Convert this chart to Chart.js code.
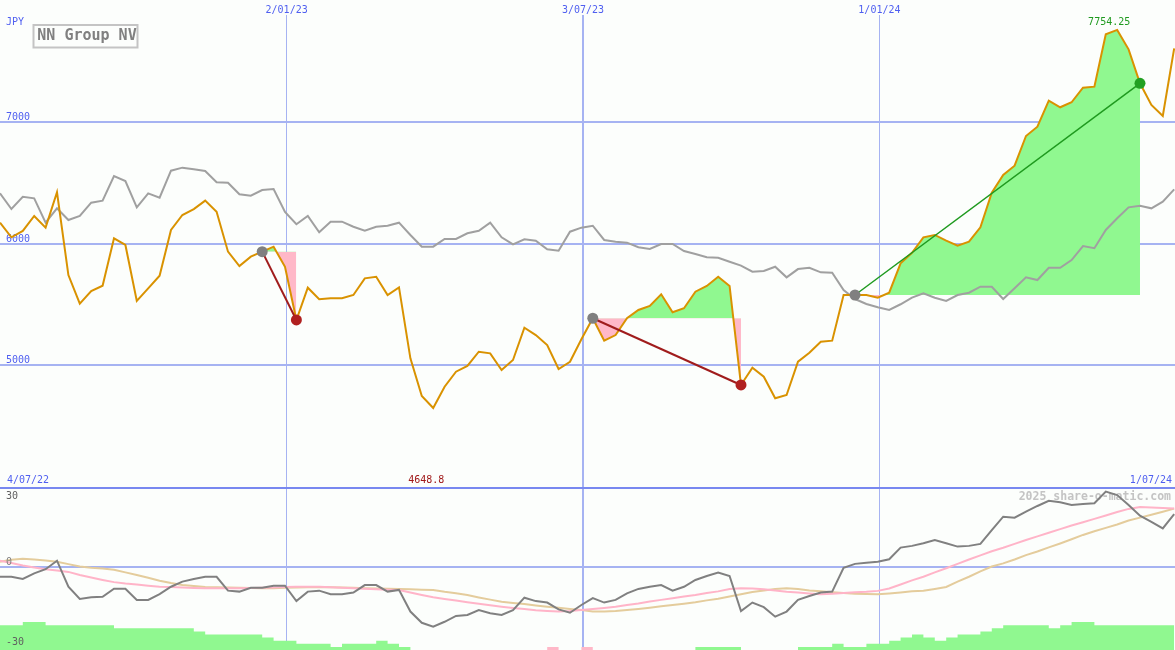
<!DOCTYPE html>
<html>
<head>
<meta charset="utf-8">
<script src="https://cdn.jsdelivr.net/npm/chart.js@4.4.1/dist/chart.umd.min.js"></script>
<style>
  html, body { margin: 0; padding: 0; background: #fcfefc; }
  #wrap { position: relative; width: 1175px; height: 650px; overflow: hidden; background: #fcfefc; }
  #top { position: absolute; left: 0; top: 0; }
  #bot { position: absolute; left: 0; top: 487px; }
</style>
</head>
<body>
<div id="wrap">
  <canvas id="top" width="1175" height="487"></canvas>
  <canvas id="bot" width="1175" height="163"></canvas>
</div>
<script>
// weekly closes, first sample 10/07/22 (day 6 counted from 4/07/22)
const firstDay = 6;
const weekDays = Array.from({ length: 104 }, (_, i) => firstDay + 7 * i);

const price = [6171, 6051, 6103, 6226, 6130, 6421, 5741, 5506, 5610, 5653,
  6043, 5988, 5528, 5632, 5736, 6111, 6234, 6283, 6352, 6261,
  5933, 5815, 5892, 5933, 5974, 5809, 5372, 5637, 5542, 5550,
  5550, 5577, 5714, 5727, 5577, 5640, 5057, 4747, 4648.8, 4824,
  4947, 4994, 5111, 5098, 4961, 5043, 5308, 5248, 5166, 4969,
  5029, 5213, 5386, 5202, 5248, 5386, 5454, 5487, 5583, 5435,
  5468, 5604, 5651, 5727, 5651, 4838, 4980, 4906, 4729, 4756,
  5029, 5103, 5193, 5202, 5577, 5577, 5577, 5555, 5596, 5837,
  5924, 6051, 6070, 6023, 5982, 6015, 6133, 6417, 6563, 6639,
  6883, 6959, 7173, 7119, 7160, 7280, 7288, 7718, 7754.25, 7595,
  7316, 7138, 7047, 7603];

// market index, rescaled to the price axis
const bench = [6412, 6283, 6384, 6371, 6171, 6289, 6193, 6226, 6335, 6352,
  6554, 6513, 6297, 6412, 6376, 6598, 6623, 6609, 6595, 6503,
  6499, 6404, 6393, 6439, 6448, 6259, 6158, 6226, 6092, 6179,
  6179, 6138, 6105, 6138, 6146, 6171, 6070, 5974, 5974, 6037,
  6037, 6084, 6105, 6171, 6051, 5993, 6034, 6023, 5952, 5941,
  6097, 6130, 6146, 6029, 6015, 6007, 5969, 5955, 5996, 5996,
  5938, 5914, 5887, 5883, 5850, 5818, 5768, 5774, 5809, 5722,
  5790, 5801, 5763, 5760, 5618, 5544, 5503, 5476, 5454, 5501,
  5555, 5591, 5555, 5528, 5577, 5596, 5645, 5645, 5544, 5632,
  5722, 5700, 5801, 5801, 5864, 5979, 5961, 6111, 6207, 6297,
  6310, 6289, 6343, 6445];

const osc = [-3.9, -3.9, -4.8, -2.5, -0.8, 2.7, -8.0, -13.0, -12.3, -12.1,
  -8.8, -8.8, -13.4, -13.4, -11.0, -8.0, -5.9, -4.8, -3.9, -3.9,
  -9.6, -10.0, -8.4, -8.4, -7.6, -7.6, -13.9, -10.0, -9.6, -11.1,
  -11.1, -10.4, -7.3, -7.3, -10.0, -9.3, -18.2, -22.8, -24.4, -22.4,
  -20.0, -19.6, -17.6, -18.9, -19.6, -17.6, -12.5, -13.9, -14.5, -17.3,
  -18.7, -15.5, -12.7, -14.5, -13.4, -10.7, -8.9, -8.0, -7.3, -9.6,
  -8.0, -5.2, -3.6, -2.2, -3.6, -18.0, -14.5, -16.4, -20.3, -18.2,
  -13.4, -11.8, -10.4, -10.0, -0.2, 1.4, 1.9, 2.3, 3.3, 8.1,
  8.8, 9.9, 11.2, 9.9, 8.5, 8.8, 9.6, 15.3, 20.8, 20.4,
  22.9, 25.2, 27.3, 26.7, 25.6, 26.0, 26.3, 31.1, 29.7, 25.6,
  21.2, 18.7, 16.0, 21.9];

const avgFast = [2.7, 1.8, 0.7, -0.1, -0.8, -1.3, -1.9, -3.2, -4.2, -5.2,
  -6.1, -6.7, -7.1, -7.6, -8.0, -8.1, -8.3, -8.5, -8.6, -8.6,
  -8.6, -8.6, -8.5, -8.4, -8.3, -8.1, -8.0, -8.0, -8.0, -8.2,
  -8.4, -8.6, -8.8, -9.0, -9.2, -9.3, -10.4, -11.4, -12.3, -13.0,
  -13.7, -14.4, -15.0, -15.6, -16.2, -16.7, -17.1, -17.7, -18.0, -18.2,
  -18.0, -17.6, -17.1, -16.7, -16.2, -15.5, -14.9, -14.1, -13.4, -12.7,
  -12.0, -11.4, -10.6, -9.9, -8.9, -8.6, -8.7, -9.0, -9.5, -10.1,
  -10.4, -10.8, -11.1, -10.9, -10.6, -10.3, -10.1, -9.7, -8.7, -7.1,
  -5.4, -3.9, -2.1, -0.4, 1.4, 3.2, 4.9, 6.6, 8.0, 9.6,
  11.2, 12.7, 14.2, 15.7, 17.2, 18.5, 19.9, 21.3, 22.7, 24.0,
  24.8, 24.6, 24.4, 24.2];

const avgSlow = [2.3, 3.1, 3.5, 3.2, 2.8, 2.3, 1.3, 0.3, -0.2, -0.5,
  -1.0, -2.1, -3.2, -4.3, -5.5, -6.5, -7.3, -7.7, -8.1, -8.2,
  -8.3, -8.4, -8.5, -8.6, -8.6, -8.4, -8.3, -8.2, -8.2, -8.2,
  -8.3, -8.4, -8.6, -8.7, -8.8, -8.9, -9.0, -9.2, -9.3, -10.1,
  -10.7, -11.4, -12.4, -13.3, -14.2, -14.7, -15.1, -15.7, -16.2, -16.6,
  -17.1, -17.6, -18.2, -18.2, -18.0, -17.6, -17.1, -16.6, -16.0, -15.5,
  -15.0, -14.4, -13.6, -12.9, -12.0, -11.1, -10.2, -9.5, -8.9, -8.6,
  -8.9, -9.5, -9.9, -10.3, -10.6, -10.9, -11.0, -11.1, -10.8, -10.4,
  -9.9, -9.6, -8.9, -8.1, -5.9, -3.9, -1.7, 0.3, 1.6, 3.2,
  5.0, 6.5, 8.2, 9.8, 11.5, 13.3, 14.8, 16.2, 17.6, 19.2,
  20.4, 21.6, 22.8, 24.1];

// strength blocks along the bottom (levels)
const strengthUp = [8, 8, 8, 9, 9, 8, 8, 8, 8, 8,
  8, 7, 7, 7, 7, 7, 7, 7, 6, 5,
  5, 5, 5, 5, 4, 3, 3, 2, 2, 2,
  1, 2, 2, 2, 3, 2, 1, 0, 0, 0,
  0, 0, 0, 0, 0, 0, 0, 0, 0, 0,
  0, 0, 0, 0, 0, 0, 0, 0, 0, 0,
  0, 0, 1, 1, 1, 1, 0, 0, 0, 0,
  0, 1, 1, 1, 2, 1, 1, 2, 2, 3,
  4, 5, 4, 3, 4, 5, 5, 6, 7, 8,
  8, 8, 8, 7, 8, 9, 9, 8, 8, 8,
  8, 8, 8, 8];
const strengthDown = weekDays.map((_, i) => (i === 49 || i === 52 ? 1 : 0));

// trades: week index of entry and exit
const tradeOpen = [23, 52, 75];
const tradeClose = [26, 65, 100];

const dateTicks = [182, 364, 546];           // days after 4/07/22
const dateLabels = ["2/01/23", "3/07/23", "1/01/24"];
const rangeLabels = ["4/07/22", "1/07/24"];
const priceTicks = [5000, 6000, 7000];
const oscTicks = [30, 0, -30];
const currency = "JPY";
const title = "NN Group NV";
const credit = "2025 share-o-matic.com";

const BG = "#fcfefc";
const BLUE = "#4f5ff0";
const GRID = "#a6b3f2";
const GREEN_FILL = "#90f890";
const PINK_FILL = "#ffb8c8";
const FONT = '10px "DejaVu Sans Mono"';

const pts = (arr) => arr.map((v, i) => ({ x: weekDays[i], y: v }));

const xScale = {
  type: "linear",
  min: firstDay,
  max: 727.5,
  afterBuildTicks: (s) => { s.ticks = dateTicks.map((v) => ({ value: v })); },
  ticks: { display: false },
  grid: {
    color: GRID,
    lineWidth: (c) => (c.tick && dateLabels[dateTicks.indexOf(c.tick.value)]?.includes("/07/") ? 2 : 1),
    drawTicks: false,
  },
  border: { display: false },
};

// ---------- upper panel ----------
const topDatasets = [];

tradeOpen.forEach((o, t) => {
  const c = tradeClose[t];
  const win = price[c] > price[o];
  const col = win ? "#1f9a1f" : "#a01c1c";
  topDatasets.push({
    data: [{ x: weekDays[o], y: price[o] }, { x: weekDays[c], y: price[c] }],
    showLine: false,
    pointRadius: 5.5,
    pointBorderWidth: 0,
    pointBackgroundColor: ["#808080", win ? "#22a022" : "#b02020"],
    order: 0,
  });
  topDatasets.push({
    data: [{ x: weekDays[o], y: price[o] }, { x: weekDays[c], y: price[c] }],
    borderColor: col,
    borderWidth: win ? 1.5 : 2,
    pointRadius: 0,
    order: 1,
  });
  topDatasets.push({
    data: pts(price).slice(o, c + 1),
    borderColor: "rgba(0,0,0,0)",
    borderWidth: 0,
    pointRadius: 0,
    fill: { target: { value: price[o] }, above: GREEN_FILL, below: PINK_FILL },
    order: 4,
  });
});

topDatasets.push({
  data: pts(price),
  borderColor: "#d99200",
  borderWidth: 2,
  pointRadius: 0,
  order: 2,
});
topDatasets.push({
  data: pts(bench),
  borderColor: "#a0a0a0",
  borderWidth: 2,
  pointRadius: 0,
  order: 3,
});

const topLabels = {
  id: "topLabels",
  beforeDatasetsDraw(chart) {
    const { ctx, scales: { x, y } } = chart;
    ctx.save();
    ctx.font = FONT;
    ctx.textBaseline = "alphabetic";

    // date labels over the vertical grid lines
    ctx.textAlign = "center";
    dateTicks.forEach((d, i) => {
      const px = x.getPixelForValue(d);
      const w = ctx.measureText(dateLabels[i]).width;
      ctx.fillStyle = BG;
      ctx.fillRect(px - w / 2 - 2, 0, w + 4, 15);
      ctx.fillStyle = BLUE;
      ctx.fillText(dateLabels[i], px, 13);
    });

    ctx.textAlign = "left";
    ctx.fillStyle = BLUE;
    ctx.fillText(currency, 6, 25);
    priceTicks.forEach((v) => ctx.fillText(String(v), 6, y.getPixelForValue(v) - 2));
    ctx.fillText(rangeLabels[0], 7, 483);
    ctx.textAlign = "right";
    ctx.fillText(rangeLabels[1], 1172, 483);

    // title box
    ctx.strokeStyle = "#c4c4c4";
    ctx.lineWidth = 2;
    ctx.strokeRect(33.5, 25, 104, 22.5);
    ctx.fillStyle = "#808080";
    ctx.font = 'bold 15px "DejaVu Sans Mono"';
    ctx.textAlign = "center";
    ctx.textBaseline = "middle";
    ctx.fillText(title, 87, 36.5);
    ctx.restore();
  },
  afterDatasetsDraw(chart) {
    const { ctx, scales: { x, y } } = chart;
    const lo = price.indexOf(Math.min(...price));
    const hi = price.indexOf(Math.max(...price));
    ctx.save();
    ctx.font = FONT;
    ctx.textAlign = "center";
    ctx.textBaseline = "alphabetic";
    ctx.fillStyle = "#a01818";
    ctx.fillText(String(price[lo]), x.getPixelForValue(weekDays[lo]) - 7, 483);
    ctx.fillStyle = "#1f9a1f";
    ctx.fillText(String(price[hi]), x.getPixelForValue(weekDays[hi]) - 8, y.getPixelForValue(price[hi]) - 5);
    ctx.restore();
  },
};

new Chart(document.getElementById("top"), {
  type: "line",
  data: { datasets: topDatasets },
  options: {
    responsive: false,
    animation: false,
    devicePixelRatio: 1,
    layout: { padding: 0, autoPadding: false },
    plugins: { legend: { display: false }, tooltip: { enabled: false } },
    elements: { line: { tension: 0 } },
    scales: {
      x: xScale,
      y: {
        min: 4000,
        max: 8000,
        afterBuildTicks: (s) => { s.ticks = priceTicks.map((v) => ({ value: v })); },
        ticks: { display: false },
        grid: { color: GRID, lineWidth: 2, drawTicks: false },
        border: { display: false },
      },
    },
  },
  plugins: [topLabels],
});

// ---------- lower panel ----------
const botLabels = {
  id: "botLabels",
  beforeDatasetsDraw(chart) {
    const { ctx } = chart;
    ctx.save();
    ctx.fillStyle = "#7888f0";
    ctx.fillRect(0, 0, chart.width, 2);
    ctx.font = 'bold 11.5px "DejaVu Sans Mono"';
    ctx.textAlign = "right";
    ctx.textBaseline = "alphabetic";
    ctx.fillStyle = "#c4c4c4";
    ctx.fillText(credit, 1171, 13);
    ctx.restore();
  },
  afterDatasetsDraw(chart) {
    const { ctx, scales: { y } } = chart;
    ctx.save();
    ctx.font = FONT;
    ctx.textAlign = "left";
    ctx.textBaseline = "alphabetic";
    oscTicks.forEach((v) => {
      ctx.fillStyle = v === 0 ? "#808080" : "#606060";
      ctx.fillText(String(v), 6, y.getPixelForValue(v) + (v === 0 ? -2 : 5));
    });
    ctx.restore();
  },
};

new Chart(document.getElementById("bot"), {
  type: "line",
  data: {
    datasets: [
      { data: pts(osc), borderColor: "#808080", borderWidth: 2, pointRadius: 0, order: 0 },
      { data: pts(avgFast), borderColor: "#ffb4c8", borderWidth: 2, pointRadius: 0, order: 1 },
      { data: pts(avgSlow), borderColor: "#e4cc9c", borderWidth: 2, pointRadius: 0, order: 2 },
      {
        data: pts(strengthUp), yAxisID: "yb", stepped: "after", fill: "start",
        backgroundColor: GREEN_FILL, borderColor: "rgba(0,0,0,0)", borderWidth: 0, pointRadius: 0, order: 5,
      },
      {
        data: pts(strengthDown), yAxisID: "yb", stepped: "after", fill: "start",
        backgroundColor: PINK_FILL, borderColor: "rgba(0,0,0,0)", borderWidth: 0, pointRadius: 0, order: 5,
      },
    ],
  },
  options: {
    responsive: false,
    animation: false,
    devicePixelRatio: 1,
    layout: { padding: 0, autoPadding: false },
    plugins: { legend: { display: false }, tooltip: { enabled: false } },
    elements: { line: { tension: 0 } },
    scales: {
      x: xScale,
      y: {
        min: -34,
        max: 33,
        afterBuildTicks: (s) => { s.ticks = [{ value: 0 }]; },
        ticks: { display: false },
        grid: { color: GRID, lineWidth: 2, drawTicks: false },
        border: { display: false },
      },
      yb: { display: false, min: 0, max: 52.6 },
    },
  },
  plugins: [botLabels],
});
</script>
</body>
</html>
